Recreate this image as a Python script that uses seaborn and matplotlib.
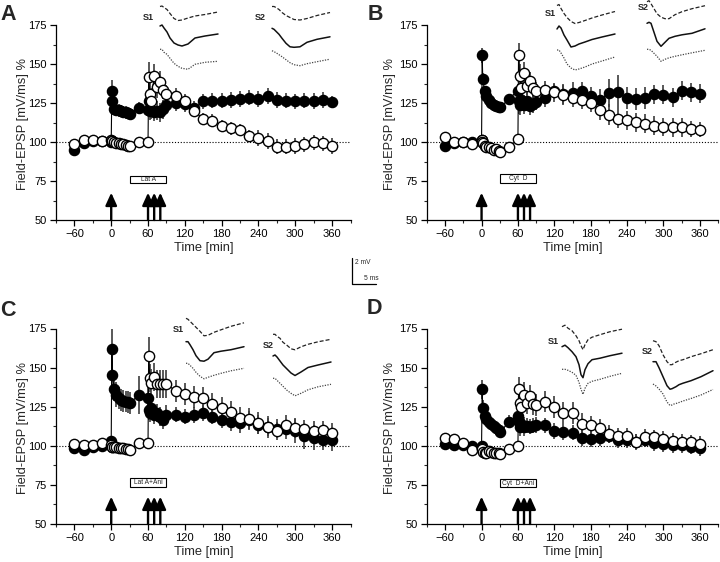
import matplotlib
matplotlib.use("Agg")
import matplotlib.pyplot as plt
import seaborn as sns
from matplotlib.patches import Rectangle
from matplotlib.ticker import MultipleLocator

sns.set_style("ticks")
plt.rcParams['font.family'] = ['Liberation Sans', 'DejaVu Sans']

# ---------------- data ----------------
times = [-60, -45, -30, -15, 0,
         1, 2, 5, 8, 12, 16, 20, 24, 28, 31,
         45, 60,
         61, 63, 65, 70, 75, 80, 85, 90,
         105, 120, 135, 150, 165, 180, 195, 210, 225, 240, 255, 270, 285, 300, 315, 330, 345, 360]

A_s1 = [95, 99.5, 100.5, 100.5, 100,
        133, 126.5, 121, 120.5, 120.3, 120, 119.3, 119, 118.5, 118,
        122, 120.5,
        126, 120, 120.5, 119.5, 120, 119, 121, 124,
        125, 124.5, 121.5, 126, 126.5, 126.5, 127, 127.7, 128.4, 127.7, 129.6, 127, 126.6, 126, 126.6, 126.4, 127, 125.5]
A_s1_err = [2, 1.5, 1, 1, 1.5,
            7, 5, 4, 4, 4, 4, 4, 4, 3.5, 3.5,
            3.5, 4,
            6, 6, 6, 6, 6, 6, 6, 5,
            5, 5, 5, 5, 5, 5, 5, 5, 5, 5, 5, 5, 5, 5, 5, 5, 5, 4]
A_s2 = [98.5, 101.5, 101, 100.7, 101.3,
        100.8, 100.4, 100, 99.6, 99.2, 98.8, 98.4, 98, 97.5, 97.2,
        100.2, 100.2,
        141.5, 131, 126.5, 142, 135.5, 138.5, 133.5, 130.5,
        129.5, 126, 120, 114.7, 113.7, 110.3, 108.8, 107.7, 103.8, 102.4, 100.6, 97, 97, 97.6, 98.5, 99.8, 99.1, 97.6]
A_s2_err = [1.5, 1.5, 1, 1, 1.5,
            2, 1.5, 1.5, 1.5, 1.5, 1.5, 2, 2, 2, 2,
            2, 2,
            10, 9, 8, 8, 7, 7, 6, 6,
            5, 5, 4, 4, 4, 4, 4, 4, 4, 5, 5, 5, 5, 5, 5, 5, 5, 5]

B_s1 = [97.5, 99.5, 100, 100, 101,
        155.5, 140.4, 132.5, 129.5, 127, 125, 123.7, 123, 122.5, 122.2,
        127.6, 133,
        126, 124, 127, 124, 126, 123, 124.5, 125.5,
        128.5, 132.5, 130.5, 131.5, 132.5, 129.5, 127, 131.5, 132, 128.2, 127.5, 128.2, 130.5, 130.3, 128.7, 133, 131.8, 131]
B_s1_err = [1.5, 1, 1, 1, 1.5,
            5, 4, 3, 3, 3, 2.5, 2.5, 2.5, 2.5, 2.5,
            3, 4,
            8, 7, 7, 6, 6, 6, 6, 5,
            6, 5, 7, 7, 6, 6, 7, 9, 11, 7, 7, 7, 6, 6, 6, 6, 6, 6]
B_s2 = [103, 99.7, 99.7, 98.8, 101.4,
        100, 99.3, 97.6, 97, 96.5, 96, 95, 95.5, 94, 93.3,
        96.7, 101.9,
        155.5, 142, 134.5, 144.3, 136, 139, 134.5, 132.5,
        133.2, 131.9, 130.4, 128.2, 127.2, 125, 120.8, 117.6, 115, 114, 112.6, 111.8, 110.5, 109.6, 109.4, 109.4, 108.5, 107.9]
B_s2_err = [1.5, 1, 1, 1, 1.5,
            2, 2, 2, 2, 2, 2, 2, 2, 2, 2,
            2, 2.5,
            8, 8, 7, 7, 6, 6, 6, 6,
            6, 6, 6, 6, 6, 6, 7, 7, 6, 6, 6, 6, 6, 6, 6, 6, 5, 5]

C_s1 = [98.3, 97.3, 99.5, 100, 103.2,
        162.2, 145.2, 136.5, 132.5, 130.5, 129.3, 128.8, 128.3, 127.8, 127.5,
        132.5, 130.4,
        122.8, 121, 124, 119.7, 121, 118.6, 116.5, 120,
        120, 118.7, 119.7, 121, 118.7, 116.3, 115.3, 114.5, 116.5, 113.5, 112, 111, 110.5, 109.5, 106, 105, 104, 103.5]
C_s1_err = [1.5, 1.5, 1, 1, 2,
            13, 10, 8, 8, 7, 7, 7, 7, 7, 7,
            12, 7,
            6, 6, 6, 6, 6, 6, 6, 6,
            5, 5, 5, 5, 5, 5, 6, 6, 6, 6, 6, 6, 6, 8, 8, 8, 7, 7]
C_s2 = [101, 100.5, 100.5, 101.6, 100.5,
        99.5, 99.3, 99, 99, 98.7, 98.4, 98.4, 98, 97.8, 97.6,
        101.6, 102,
        157.5, 143.2, 140, 143.8, 139.6, 139.6, 139.6, 139.6,
        135, 133.3, 131.4, 130.4, 127, 124, 121.5, 117.5, 117, 114.6, 112.2, 109.5, 113.5, 111.3, 110.5, 109.7, 110, 108.4]
C_s2_err = [1, 1, 1, 1, 1,
            1.5, 1.5, 1.5, 1.5, 1.5, 1.5, 1.5, 1.5, 1.5, 1.5,
            2, 2,
            12, 9, 9, 9, 9, 9, 9, 9,
            7, 7, 7, 7, 7, 7, 7, 7, 7, 7, 7, 6, 6, 6, 6, 6, 6, 6]

D_s1 = [101, 100.5, 100.5, 99.9, 100.1,
        136, 124, 119, 117, 115.5, 114, 112.9, 111.6, 110, 108.6,
        115.5, 119.1,
        115.5, 112.3, 114, 112.3, 112.9, 112.3, 112.9, 113.3,
        113, 109.5, 109, 108.5, 104.8, 104.2, 105, 106.5, 103.5, 103.5, 102.5, 104, 101.5, 101, 100.5, 100.5, 99.5, 98.4]
D_s1_err = [1.5, 1.5, 1, 1, 1.5,
            6, 5, 4, 3, 3, 3, 3, 3, 3, 3,
            4, 5,
            6, 6, 6, 6, 5, 5, 5, 5,
            5, 5, 5, 5, 5, 5, 5, 5, 5, 5, 5, 5, 5, 5, 5, 5, 5, 5]
D_s2 = [105.2, 104.2, 102, 97.3, 98.8,
        98, 96.3, 95.2, 95.5, 96.7, 95.8, 95.6, 95.4, 95.2, 95,
        97.8, 100.1,
        136, 127.6, 125, 132.5, 127.6, 131.9, 127, 126.1,
        128.3, 125, 120.8, 120.8, 114, 113.3, 111.2, 107.6, 106.5, 106.3, 102.7, 105.9, 105.4, 104.2, 103.3, 102.7, 102.2, 101.2]
D_s2_err = [1.5, 1.5, 1.5, 1.5, 1.5,
            1.5, 1.5, 1.5, 1.5, 1.5, 1.5, 1.5, 1.5, 1.5, 1.5,
            2, 2,
            8, 8, 8, 8, 7, 7, 7, 7,
            7, 7, 7, 7, 7, 6, 6, 6, 5, 5, 5, 5, 5, 5, 5, 5, 5, 5]

tetanus_times = [0, 60, 70, 80]
drug_start, drug_end = 30, 90
drug_labels = ["Lat A", "Cyt  D", "Lat A+Ani", "Cyt  D+Ani"]
panel_letters = ["A", "B", "C", "D"]
baseline = 100
xticks = [-60, 0, 60, 120, 180, 240, 300, 360]
yticks = [50, 75, 100, 125, 150, 175]

# example fEPSP traces (arbitrary units, sampled at trace_x)
trace_x = [0, 2, 4, 7, 10, 14, 18, 22, 28, 35, 45, 58]
trace_xD = [0, 3, 6, 10, 14, 17, 19, 21, 23, 26, 30, 38, 48, 60]

A_S1_dash = [0, 0.5, -1, -3, -7, -12, -14, -13.5, -11.5, -9.5, -8, -5.5]
A_S1_solid = [0, 1, -2, -6, -12, -17, -19, -20, -18, -12, -10, -8]
A_S1_dot = [0, 0, -3, -5, -9, -14, -17, -19, -20, -15, -13, -12]
A_S2_dash = [0, 0, -1, -3, -6, -9, -11, -13, -13.5, -12, -9, -6]
A_S2_solid = [0, -1, -3, -6, -10, -15, -18.5, -19, -18.5, -14, -11, -8.5]
A_S2_dot = [0, -1, -2, -4, -6, -9, -12, -14, -15, -13, -11, -8.5]

B_S1_dash = [0, 1, -3, -8, -12, -16, -18, -17, -15, -12.5, -9.5, -6]
B_S1_solid = [0, 3, 1, -6, -11, -18, -17, -15, -13, -10.5, -8, -5]
B_S1_dot = [0, 0, -3, -8, -14, -18, -20, -19, -17, -14, -11, -7]
B_S2_dash = [0, 1, -2, -7, -12, -15.5, -17, -17, -13, -10, -7, -4]
B_S2_solid = [0, 1, 0, -9, -18, -23, -19, -15, -13, -11.5, -10, -5.5]
B_S2_dot = [0, 0, -1, -4, -7, -12, -10, -8.5, -7, -5.5, -3.5, -1]

C_S1_dash = [0, -1, -3, -6, -9, -13, -17.5, -17, -14, -11.5, -8, -4.5]
C_S1_solid = [0, 0, -3, -8, -14, -19, -19.5, -17.5, -11, -9.5, -8, -5]
C_S1_dot = [0, 0, -2, -5, -9, -13, -15.5, -14, -12, -10, -7.5, -5]
C_S2_dash = [0, 0, -2, -4, -8, -11, -14.5, -15.5, -12.5, -10, -7.5, -5]
C_S2_solid = [0, 1, -1, -5, -9, -13, -17, -19.5, -16, -11.5, -9, -6]
C_S2_dot = [0, 0, -2, -5, -8, -12, -15, -17.5, -15, -11.5, -8.5, -6]

D_S1_dash = [0, 1.5, -1.5, -4, -9, -14, -19, -23, -18, -13, -10.5, -8, -5, -2.5]
D_S1_solid = [0, 1.5, -1, -5, -10, -18, -28, -31, -23, -17, -13, -11.5, -9, -6.5]
D_S1_dot = [0, 0, -1, -3, -6, -13, -20, -25, -19, -14, -12, -10, -7, -4]
D_S2_dash = [0, -1, -5, -14, -21, -24, -24, -22.5, -21.5, -20, -19, -16, -13, -9]
D_S2_solid = [0, 0, -6, -15, -24, -27.5, -27, -26, -25, -23, -21.5, -19, -15, -9]
D_S2_dot = [0, -2, -5, -10, -18, -21.5, -21, -20, -19.5, -18.5, -17, -14.5, -11, -5.5]

# ---------------- layout (pixels) ----------------
W, H = 720, 562
axes_px = [(56, 25, 294.5, 195), (427, 25, 291, 195),
           (56, 328.5, 294.5, 195.5), (427, 328.5, 291, 195.5)]
ylabel_x = [-0.092, -0.108, -0.092, -0.108]
box_y = [(74, 78), (73.7, 79.5), (73.7, 79.2), (73.4, 78.8)]
letter_px = [(8, 15), (375, 15), (8, 311), (374, 309)]
trio_layout = {
    ("A", "S1"): (160, 6.5, 26, 49.3, 148, 17),
    ("A", "S2"): (272, 6.5, 28.3, 50.7, 260, 17),
    ("B", "S1"): (557, 5.5, 29, 50, 550, 14),
    ("B", "S2"): (647, 1.7, 23.3, 49.3, 643, 8),
    ("C", "S1"): (186, 318.3, 341.7, 363.3, 178, 330),
    ("C", "S2"): (273, 334.3, 356, 378.3, 268, 346),
    ("D", "S1"): (562, 326.7, 346.7, 369.3, 553, 341),
    ("D", "S2"): (653, 340.7, 361.7, 384, 647, 351),
}
traces = {
    ("A", "S1"): (A_S1_dash, A_S1_solid, A_S1_dot),
    ("A", "S2"): (A_S2_dash, A_S2_solid, A_S2_dot),
    ("B", "S1"): (B_S1_dash, B_S1_solid, B_S1_dot),
    ("B", "S2"): (B_S2_dash, B_S2_solid, B_S2_dot),
    ("C", "S1"): (C_S1_dash, C_S1_solid, C_S1_dot),
    ("C", "S2"): (C_S2_dash, C_S2_solid, C_S2_dot),
    ("D", "S1"): (D_S1_dash, D_S1_solid, D_S1_dot),
    ("D", "S2"): (D_S2_dash, D_S2_solid, D_S2_dot),
}

series = [(A_s1, A_s1_err, A_s2, A_s2_err),
          (B_s1, B_s1_err, B_s2, B_s2_err),
          (C_s1, C_s1_err, C_s2, C_s2_err),
          (D_s1, D_s1_err, D_s2, D_s2_err)]

fig = plt.figure(figsize=(W / 100, H / 100), dpi=100)

for i, (s1, s1e, s2, s2e) in enumerate(series):
    l, t, w, h = axes_px[i]
    ax = fig.add_axes([l / W, 1 - (t + h) / H, w / W, h / H])
    ax.axhline(baseline, color='black', lw=0.8, ls=(0, (1, 1.6)), zorder=1)
    ax.errorbar(times, s1, yerr=s1e, fmt='none', ecolor='#3c3c3c', elinewidth=1.2, capsize=0, zorder=2)
    ax.errorbar(times, s2, yerr=s2e, fmt='none', ecolor='#3c3c3c', elinewidth=1.2, capsize=0, zorder=2)
    sns.lineplot(x=times, y=s1, ax=ax, color='black', lw=0.8, marker='o', markersize=7.4,
                 markerfacecolor='black', markeredgecolor='black', markeredgewidth=0.9,
                 errorbar=None, zorder=4)
    sns.lineplot(x=times, y=s2, ax=ax, color='black', lw=0.8, marker='o', markersize=7.4,
                 markerfacecolor='white', markeredgecolor='black', markeredgewidth=1.0,
                 errorbar=None, zorder=5)
    for tt in tetanus_times:
        ax.annotate('', xy=(tt, 67.5), xytext=(tt, 50),
                    arrowprops=dict(arrowstyle='-|>,head_length=0.75,head_width=0.34',
                                    color='black', lw=1.7, shrinkA=0, shrinkB=0),
                    annotation_clip=False, zorder=6)
    lo, hi = box_y[i]
    ax.add_patch(Rectangle((drug_start, lo), drug_end - drug_start, hi - lo,
                           facecolor='white', edgecolor='black', lw=0.8, zorder=6))
    ax.text((drug_start + drug_end) / 2, (lo + hi) / 2, drug_labels[i], ha='center', va='center',
            fontsize=4.8, zorder=7)
    ax.set_xlim(-90, 390)
    ax.set_ylim(50, 175)
    ax.set_xticks(xticks)
    ax.set_yticks(yticks)
    ax.xaxis.set_minor_locator(MultipleLocator(30))
    ax.yaxis.set_minor_locator(MultipleLocator(12.5))
    ax.tick_params(which='major', direction='out', length=4, width=0.9, labelsize=8, pad=2.5, colors='black')
    ax.tick_params(which='minor', direction='out', length=2.2, width=0.8)
    sns.despine(ax=ax)
    for sp in ['left', 'bottom']:
        ax.spines[sp].set_linewidth(0.9)
        ax.spines[sp].set_color('black')
    ax.set_xlabel('Time [min]', fontsize=9.3)
    ax.set_ylabel('Field-EPSP [mV/ms] %', fontsize=9.3)
    ax.xaxis.set_label_coords(0.5, -0.115)
    ax.yaxis.set_label_coords(ylabel_x[i], 0.49)
    ax.patch.set_alpha(0)
    lx, ly = letter_px[i]
    fig.text(lx / W, 1 - ly / H, panel_letters[i], fontsize=15.5, fontweight='bold',
             ha='center', va='center')

# overlay for sample traces and scale bar (pixel coordinates)
ov = fig.add_axes([0, 0, 1, 1], zorder=10)
ov.set_xlim(0, W)
ov.set_ylim(H, 0)
ov.axis('off')
ov.patch.set_alpha(0)
styles = [dict(ls=(0, (3.2, 1.6)), lw=0.9, color='#222222'),
          dict(ls='-', lw=1.1, color='#111111'),
          dict(ls=(0, (1, 1.1)), lw=0.9, color='#444444')]
for (panel, stim), (x0, yd, ys, yo, lxp, lyp) in trio_layout.items():
    tx = trace_xD if panel == "D" else trace_x
    for tr, y0, st in zip(traces[(panel, stim)], (yd, ys, yo), styles):
        ov.plot([x0 + v for v in tx], [y0 - v for v in tr], **st)
    ov.text(lxp, lyp, stim, fontsize=6.5, fontweight='bold', ha='center', va='center')

# scale bar
ov.plot([352, 352, 376], [258, 284, 284], color='black', lw=0.9)
ov.text(355, 263, '2 mV', fontsize=4.8, ha='left', va='center')
ov.text(364, 278, '5 ms', fontsize=4.8, ha='left', va='center')

fig.savefig('out.png', dpi=100)
